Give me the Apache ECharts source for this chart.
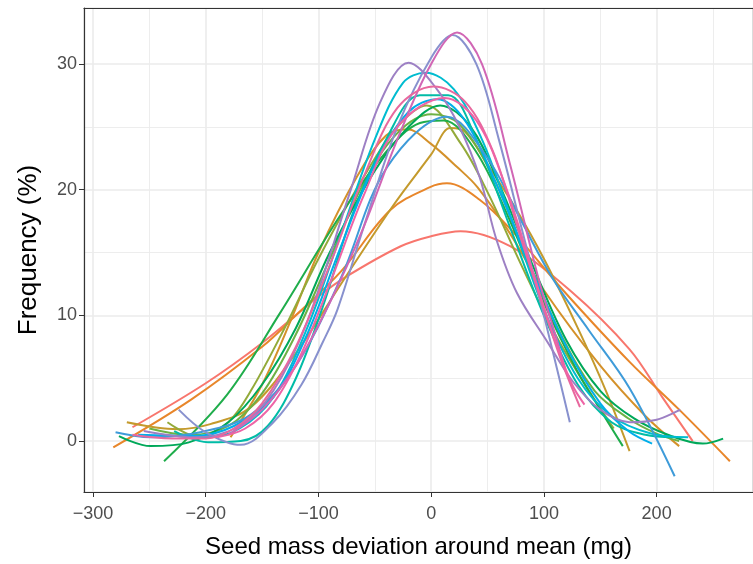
<!DOCTYPE html>
<html><head><meta charset="utf-8">
<script src="https://cdn.jsdelivr.net/npm/echarts@6/dist/echarts.min.js"></script>
<style>html,body{margin:0;padding:0;background:#fff}#c{width:753px;height:564px}</style>
</head><body><div id="c"></div>
<script>
const xTicks = [-300, -200, -100, 0, 100, 200];
const yTicks = [0, 10, 20, 30];
const lineNames = ['A','B','C','D','E','Q','F','G','T','C2','I','J','K','L','M','N','O'];
const lineColors = ['#F8766D','#E8862A','#D4912A','#C49A2C','#93AA3A','#6DB144','#1FAD4B','#00A859','#00BCA7','#00BCD0','#00AEEA','#3E9BD9','#8891CE','#9D80C4','#D166B5','#E8689E','#EE64A6'];
const sA = [[-265,1.1],[-200,4.6],[-150,7.8],[-100,11.5],[-75,13.1],[-27,15.5],[0,16.3],[26,16.7],[70,15.5],[123,12],[176,7.3],[205,3.5],[232,0]];
const sB = [[-282,-0.5],[-213,3.3],[-150,7.5],[-120,10],[-80,13.5],[-36,18.4],[-1,20.2],[14,20.5],[43,19.2],[73,16.6],[117,12],[176,6.3],[220,2.5],[265,-1.6]];
const sC = [[-178,0.3],[-150,4.5],[-125,9.5],[-100,15],[-66,21],[-40,24.3],[-21,24.8],[-1,23.7],[23,21.8],[41,20.2],[70,16.5],[100,12],[150,6],[190,2],[220,-0.4]];
const sD = [[-270,1.5],[-225,0.95],[-196,1.35],[-160,2.7],[-120,7],[-80,12.5],[-34,18.7],[0,22.8],[17,24.9],[30,24.6],[50,22],[75,18.5],[100,14.5],[130,9],[155,4],[176,-0.8]];
const sE = [[-234,1.5],[-205,0.3],[-180,1.5],[-160,4],[-130,9],[-100,14.5],[-60,21],[-30,25],[-4,26.7],[26,23.7],[50,19.8],[80,14],[110,8.5],[140,4],[162,1]];
const sQ = [[-250,1],[-215,0.5],[-180,1.2],[-150,3.8],[-120,8.5],[-90,14.5],[-60,20.5],[-30,24.5],[0,26],[25,25.2],[55,21],[85,14.5],[115,8.5],[145,4],[175,1.8],[200,0.6],[220,0]];
const sF = [[-237,-1.6],[-181,3.7],[-134,10.2],[-81,17.9],[-40,23],[-10,25.3],[11,25.5],[40,23],[70,17.5],[100,11],[130,5.5],[150,2.5],[170,-0.4]];
const sG = [[-277,0.4],[-249,-0.4],[-215,-0.1],[-180,1.5],[-150,4.5],[-120,9],[-90,15],[-50,21.5],[-20,25],[8,26.7],[35,25],[60,20.5],[90,14],[120,8],[150,4],[180,1.8],[210,0.5],[241,-0.2],[259,0.2]];
const sT = [[-228,0.8],[-198,-0.1],[-169,0],[-145,1.2],[-120,5],[-95,11],[-70,18],[-40,24],[-10,27.5],[15,27.5],[40,24],[70,17],[100,10],[130,4.5],[160,1.5],[190,0.5],[215,0.3]];
const sC2 = [[-240,0.5],[-200,0.3],[-170,1],[-140,3.5],[-110,9],[-80,16.5],[-50,24],[-25,28.5],[-5,29.3],[20,28],[45,24],[70,18],[100,10.5],[130,5],[160,2],[195,0.6],[228,0.3]];
const sI = [[-260,0.5],[-210,0.4],[-175,1.2],[-140,3.5],[-110,8.5],[-80,15.5],[-50,22],[-20,26.2],[5,27.2],[30,25.5],[60,20],[90,13.5],[120,7.5],[150,3],[175,0.8],[196,-0.2]];
const sJ = [[-280,0.7],[-249,0.3],[-205,0.7],[-160,2.1],[-120,6],[-80,13],[-39,21.8],[14,25.8],[50,22.5],[80,17.5],[108,12.9],[140,8.8],[176,4.2],[216,-2.8]];
const sK = [[-224,2.5],[-200,0.7],[-169,-0.3],[-140,1.5],[-115,4.5],[-96,7.9],[-83,10.5],[-60,17],[-30,25],[0,30.5],[19,32.3],[40,30],[60,24],[80,17],[100,10],[115,4.5],[123,1.5]];
const sL = [[-255,0.8],[-210,0.3],[-170,1.2],[-140,4],[-110,9.5],[-72,19.8],[-45,27],[-20,30.1],[5,28],[25,25],[43,21],[58,16],[76,11.8],[103,7.9],[126,4.7],[150,2.5],[176,1.5],[200,1.7],[221,2.5]];
const sM = [[-180,0.5],[-150,2.5],[-120,6],[-90,11],[-60,17],[-30,24],[0,30],[23,32.5],[45,30],[70,22],[95,13],[110,8.5],[119,5.7]];
const sN = [[-265,0.5],[-230,0.2],[-200,0.2],[-175,1],[-150,3],[-120,7.5],[-90,14],[-60,21],[-30,26.5],[2,28.2],[30,27],[55,23],[80,16],[100,10.5],[115,6.5],[132,2.7]];
const sO = [[-190,0.3],[-165,1],[-140,3],[-115,7],[-90,12.5],[-60,19.5],[-30,25],[12,27.3],[40,25.5],[65,20.5],[90,13.5],[110,8],[125,4.5],[136,2.9]];
const lineData = [sA,sB,sC,sD,sE,sQ,sF,sG,sT,sC2,sI,sJ,sK,sL,sM,sN,sO];

const chart = echarts.init(document.getElementById('c'), null, {renderer:'canvas'});
const fmt = v => (v < 0 ? '\u2212' + Math.abs(v) : String(v));
const frameAxis = {show: true, axisLine: {show: true, onZero: false, lineStyle: {color: '#333', width: 1.2}}, axisTick: {show: false}, axisLabel: {show: false}, splitLine: {show: false}};
chart.setOption({
  animation: false,
  backgroundColor: '#fff',
  textStyle: {fontFamily: 'Liberation Sans'},
  grid: {left: 84, top: 8, right: 0, bottom: 71, show: false, containLabel: false},
  xAxis: [{
    type: 'value', min: -308, max: 285.5,
    splitNumber: 6,
    name: 'Seed mass deviation around mean (mg)', nameLocation: 'middle', nameGap: 43,
    nameTextStyle: {fontSize: 24, color: '#000'},
    axisLine: {show: true, onZero: false, lineStyle: {color: '#333', width: 1.2}},
    axisTick: {show: true, length: 5, lineStyle: {color: '#333'}},
    axisLabel: {fontSize: 18, color: '#4D4D4D', margin: 13, showMinLabel: false, showMaxLabel: false,
      formatter: v => xTicks.includes(v) ? fmt(v) : ''},
    splitLine: {show: true, lineStyle: {color: '#EBEBEB', width: 1.6}},
    minorTick: {show: false, splitNumber: 2},
    minorSplitLine: {show: true, lineStyle: {color: '#EBEBEB', width: 0.9}}
  }, Object.assign({type: 'value', position: 'top', min: -308, max: 285.5}, frameAxis)],
  yAxis: [{
    type: 'value', min: -4.05, max: 34.45,
    splitNumber: 4,
    name: 'Frequency (%)', nameLocation: 'middle', nameGap: 42, nameRotate: 90,
    nameTextStyle: {fontSize: 26, color: '#000'},
    axisLine: {show: true, onZero: false, lineStyle: {color: '#333', width: 1.2}},
    axisTick: {show: true, length: 5, lineStyle: {color: '#333'}},
    axisLabel: {fontSize: 18, color: '#4D4D4D', margin: 7, showMinLabel: false, showMaxLabel: false,
      formatter: v => yTicks.includes(v) ? fmt(v) : ''},
    splitLine: {show: true, lineStyle: {color: '#EBEBEB', width: 1.6}},
    minorTick: {show: false, splitNumber: 2},
    minorSplitLine: {show: true, lineStyle: {color: '#EBEBEB', width: 0.9}}
  }, Object.assign({type: 'value', position: 'right', min: -4.05, max: 34.45}, frameAxis)],
  series: lineData.map((d, i) => ({
    name: lineNames[i], type: 'line', data: d, smooth: 0.35, showSymbol: false,
    lineStyle: {color: lineColors[i], width: 2}, itemStyle: {color: lineColors[i]}
  }))
});
</script></body></html>
